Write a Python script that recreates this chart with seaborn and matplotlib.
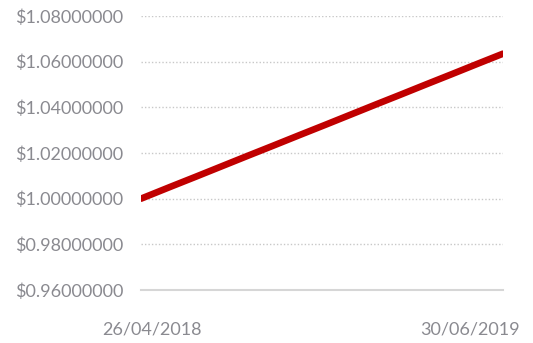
import matplotlib
matplotlib.use("Agg")
import matplotlib.pyplot as plt
import matplotlib.ticker as mticker
import matplotlib.transforms as mtransforms
import seaborn as sns
import pandas as pd

# Unit price series (month-end readings)
dates = ["2018-04-26", "2018-05-31", "2018-06-30", "2018-07-31", "2018-08-31",
         "2018-09-30", "2018-10-31", "2018-11-30", "2018-12-31", "2019-01-31",
         "2019-02-28", "2019-03-31", "2019-04-30", "2019-05-31", "2019-06-30"]
prices = [1.0000, 1.0052, 1.0096, 1.0142, 1.0188, 1.0232, 1.0278, 1.0322,
          1.0368, 1.0414, 1.0455, 1.0501, 1.0545, 1.0591, 1.0635]
y_ticks = [0.96, 0.98, 1.00, 1.02, 1.04, 1.06, 1.08]
x_tick_labels = ["26/04/2018", "30/06/2019"]

df = pd.DataFrame({"date": pd.to_datetime(dates), "price": prices})

sns.set_style("white")
plt.rcParams["font.family"] = ["Lato", "DejaVu Sans"]

fig = plt.figure(figsize=(5.33, 3.43), dpi=100)
ax = fig.add_axes([141 / 533, 1 - 290 / 343, 362 / 533, 274 / 343])

sns.lineplot(data=df, x="date", y="price", ax=ax, color="#c00000",
             linewidth=4.8, solid_capstyle="round")

ax.set_xlim(df["date"].iloc[0], df["date"].iloc[-1])
ax.set_ylim(0.96, 1.08)
ax.set_yticks(y_ticks)
ax.yaxis.set_major_formatter(mticker.FuncFormatter(lambda v, p: f"${v:.8f}"))
ax.set_xticks([df["date"].iloc[0], df["date"].iloc[-1]])
ax.set_xticklabels(x_tick_labels)

ax.grid(axis="y", color="#c8c8c8", linestyle=(0, (1, 1.5)), linewidth=1.0)
ax.grid(axis="x", visible=False)
ax.set_axisbelow(True)
for side in ["top", "right", "left"]:
    ax.spines[side].set_visible(False)
ax.spines["bottom"].set_color("#d6d6d6")
ax.spines["bottom"].set_linewidth(1.5)

ax.tick_params(axis="both", length=0, labelcolor="#8a8a90", labelsize=13)
ax.tick_params(axis="y", pad=13)
ax.tick_params(axis="x", pad=23)

# nudge the date labels inward
xl = ax.get_xticklabels()
xl[0].set_transform(xl[0].get_transform() + mtransforms.ScaledTranslation(11 / 100, 0, fig.dpi_scale_trans))
xl[1].set_transform(xl[1].get_transform() + mtransforms.ScaledTranslation(-33 / 100, 0, fig.dpi_scale_trans))

ax.set_xlabel("")
ax.set_ylabel("")
fig.savefig("out.png", dpi=100)
